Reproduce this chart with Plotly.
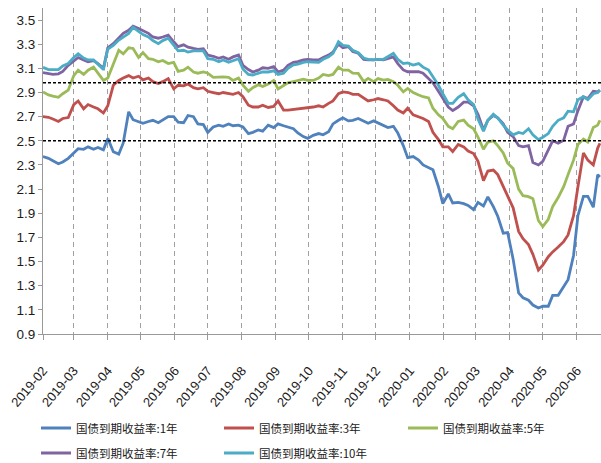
import plotly.graph_objects as go

# Observation dates (2019-02 .. 2020-06)
dates = [
    "2019-02-01", "2019-02-06", "2019-02-10", "2019-02-15", "2019-02-19", "2019-02-24",
    "2019-03-01", "2019-03-05", "2019-03-10", "2019-03-14", "2019-03-19", "2019-03-23",
    "2019-03-28", "2019-04-01", "2019-04-06", "2019-04-11", "2019-04-15", "2019-04-20",
    "2019-04-24", "2019-04-29", "2019-05-03", "2019-05-08", "2019-05-12", "2019-05-17",
    "2019-05-21", "2019-05-26", "2019-05-31", "2019-06-04", "2019-06-09", "2019-06-13",
    "2019-06-18", "2019-06-22", "2019-06-27", "2019-07-01", "2019-07-06", "2019-07-11",
    "2019-07-15", "2019-07-20", "2019-07-24", "2019-07-29", "2019-08-02", "2019-08-07",
    "2019-08-11", "2019-08-16", "2019-08-20", "2019-08-25", "2019-08-30", "2019-09-03",
    "2019-09-08", "2019-09-12", "2019-09-17", "2019-09-21", "2019-09-26", "2019-09-30",
    "2019-10-05", "2019-10-10", "2019-10-14", "2019-10-19", "2019-10-23",
    "2019-10-28", "2019-11-01", "2019-11-06", "2019-11-10", "2019-11-15", "2019-11-20",
    "2019-11-24", "2019-11-29", "2019-12-03", "2019-12-08", "2019-12-12", "2019-12-17",
    "2019-12-21", "2019-12-26", "2019-12-30", "2020-01-04", "2020-01-09", "2020-01-13",
    "2020-01-18", "2020-01-22", "2020-01-27", "2020-01-31", "2020-02-05", "2020-02-09",
    "2020-02-14", "2020-02-19", "2020-02-23", "2020-02-28",
    "2020-03-03", "2020-03-08", "2020-03-12", "2020-03-17", "2020-03-21", "2020-03-26",
    "2020-03-30", "2020-04-04", "2020-04-09", "2020-04-13", "2020-04-18", "2020-04-22",
    "2020-04-27", "2020-05-01", "2020-05-06", "2020-05-10", "2020-05-15", "2020-05-20",
    "2020-05-24", "2020-05-29", "2020-06-02", "2020-06-07", "2020-06-11", "2020-06-16",
    "2020-06-20", "2020-06-22",
]

# 国债到期收益率 (%)
yield_1y = [
    2.37, 2.355, 2.335, 2.31, 2.325, 2.355, 2.40, 2.435, 2.43, 2.45, 2.43, 2.445, 2.425, 2.52, 2.41,
    2.39, 2.48, 2.74, 2.675, 2.66, 2.645, 2.66, 2.67, 2.65, 2.675, 2.70, 2.70, 2.655, 2.65, 2.71,
    2.70, 2.64, 2.635, 2.57, 2.615, 2.63, 2.62, 2.64, 2.625, 2.63, 2.615, 2.56, 2.57, 2.59, 2.58,
    2.63, 2.61, 2.64, 2.625, 2.615, 2.60, 2.565, 2.535, 2.52, 2.545, 2.56, 2.55, 2.575, 2.64,
    2.67, 2.69, 2.665, 2.67, 2.685, 2.66, 2.645, 2.665, 2.65, 2.63, 2.61, 2.62, 2.565, 2.46,
    2.36, 2.37, 2.34, 2.30, 2.275, 2.26, 2.12, 1.98, 2.06, 1.985, 1.99, 1.98, 1.965, 1.93,
    1.99, 1.96, 2.035, 1.955, 1.875, 1.735, 1.74, 1.52, 1.24, 1.20, 1.18, 1.14, 1.115, 1.13,
    1.13, 1.22, 1.22, 1.29, 1.35, 1.55, 1.88, 2.04, 2.04, 1.95, 2.22, 2.20,
]
yield_3y = [
    2.70, 2.695, 2.68, 2.66, 2.685, 2.693, 2.80, 2.83, 2.765, 2.80, 2.78, 2.765, 2.73, 2.79, 2.96,
    3.00, 3.02, 3.04, 3.02, 3.035, 3.005, 3.02, 2.99, 2.975, 2.99, 3.015, 2.93, 2.96, 2.955, 2.97,
    2.94, 2.93, 2.94, 2.91, 2.90, 2.89, 2.90, 2.89, 2.885, 2.90, 2.865, 2.795, 2.78, 2.78, 2.795,
    2.776, 2.785, 2.83, 2.755, 2.755, 2.76, 2.77, 2.775, 2.777, 2.78, 2.79, 2.78, 2.81, 2.83,
    2.89, 2.905, 2.90, 2.885, 2.885, 2.855, 2.83, 2.84, 2.85, 2.84, 2.83, 2.79, 2.755, 2.73,
    2.77, 2.715, 2.70, 2.685, 2.66, 2.57, 2.51, 2.45, 2.45, 2.41, 2.47, 2.45, 2.415, 2.395,
    2.33, 2.17, 2.25, 2.258, 2.22, 2.12, 2.04, 1.945, 1.75, 1.69, 1.64, 1.56, 1.43, 1.47,
    1.54, 1.58, 1.62, 1.665, 1.72, 1.88, 2.12, 2.40, 2.34, 2.30, 2.44, 2.48,
]
yield_5y = [
    2.905, 2.88, 2.87, 2.86, 2.89, 2.92, 3.04, 3.085, 3.05, 3.085, 3.11, 3.06, 3.00, 3.02, 3.13,
    3.25, 3.22, 3.27, 3.265, 3.19, 3.23, 3.18, 3.175, 3.155, 3.165, 3.14, 3.15, 3.075, 3.085, 3.11,
    3.07, 3.06, 3.07, 3.06, 3.025, 3.03, 3.03, 3.025, 3.00, 3.02, 2.96, 2.91, 2.94, 2.965, 2.95,
    2.97, 3.00, 2.93, 2.96, 2.98, 2.99, 3.00, 3.01, 3.00, 3.00, 3.02, 3.05, 3.04, 3.05,
    3.11, 3.085, 3.085, 3.06, 3.058, 2.99, 3.017, 2.99, 3.015, 3.003, 3.009, 2.99, 2.96, 2.906,
    2.934, 2.90, 2.88, 2.865, 2.855, 2.77, 2.715, 2.685, 2.62, 2.60, 2.66, 2.672, 2.63, 2.60,
    2.53, 2.43, 2.49, 2.50, 2.46, 2.40, 2.315, 2.27, 2.10, 2.045, 2.037, 2.02, 1.84, 1.79,
    1.85, 1.955, 2.03, 2.12, 2.22, 2.34, 2.47, 2.515, 2.49, 2.61, 2.63, 2.67,
]
yield_7y = [
    3.065, 3.055, 3.05, 3.055, 3.075, 3.125, 3.165, 3.19, 3.17, 3.155, 3.165, 3.14, 3.10, 3.27, 3.305,
    3.35, 3.39, 3.415, 3.45, 3.43, 3.41, 3.39, 3.36, 3.35, 3.36, 3.375, 3.32, 3.28, 3.295, 3.275,
    3.265, 3.258, 3.263, 3.21, 3.20, 3.183, 3.195, 3.175, 3.195, 3.21, 3.125, 3.09, 3.07, 3.085,
    3.105, 3.10, 3.115, 3.07, 3.085, 3.125, 3.15, 3.156, 3.17, 3.175, 3.17, 3.17, 3.19, 3.21, 3.235,
    3.30, 3.27, 3.28, 3.24, 3.225, 3.175, 3.17, 3.17, 3.175, 3.17, 3.18, 3.195, 3.14, 3.087,
    3.072, 3.072, 3.072, 3.06, 3.017, 2.98, 2.91, 2.85, 2.78, 2.75, 2.78, 2.82, 2.82, 2.79,
    2.72, 2.59, 2.67, 2.71, 2.69, 2.64, 2.57, 2.535, 2.46, 2.45, 2.46, 2.32, 2.30, 2.33,
    2.42, 2.50, 2.48, 2.505, 2.62, 2.64, 2.75, 2.865, 2.85, 2.91, 2.905, 2.92,
]
yield_10y = [
    3.108, 3.09, 3.09, 3.09, 3.12, 3.14, 3.19, 3.22, 3.185, 3.17, 3.17, 3.135, 3.09, 3.26, 3.29,
    3.335, 3.36, 3.39, 3.44, 3.41, 3.38, 3.36, 3.33, 3.305, 3.33, 3.35, 3.29, 3.245, 3.25, 3.235,
    3.245, 3.245, 3.245, 3.18, 3.175, 3.155, 3.17, 3.15, 3.165, 3.18, 3.095, 3.05, 3.045, 3.06,
    3.07, 3.07, 3.08, 3.05, 3.06, 3.10, 3.13, 3.135, 3.15, 3.155, 3.155, 3.15, 3.175, 3.195, 3.225,
    3.32, 3.29, 3.285, 3.25, 3.23, 3.185, 3.175, 3.17, 3.175, 3.175, 3.195, 3.225, 3.175, 3.14,
    3.145, 3.128, 3.14, 3.11, 3.086, 3.03, 2.96, 2.89, 2.81, 2.81, 2.86, 2.89, 2.84, 2.80,
    2.68, 2.58, 2.67, 2.72, 2.69, 2.63, 2.59, 2.55, 2.57, 2.56, 2.60, 2.55, 2.51, 2.53,
    2.56, 2.62, 2.67, 2.69, 2.745, 2.74, 2.84, 2.865, 2.84, 2.89, 2.90, 2.92,
]

series_names = ["国债到期收益率:1年", "国债到期收益率:3年", "国债到期收益率:5年",
                "国债到期收益率:7年", "国债到期收益率:10年"]
series_values = [yield_1y, yield_3y, yield_5y, yield_7y, yield_10y]
series_colors = ["#4F81BD", "#C0504D", "#9BBB59", "#8064A2", "#4BACC6"]

# Reference levels drawn as dashed horizontal lines
ref_levels = [2.98, 2.5]

y_ticks = [0.9, 1.1, 1.3, 1.5, 1.7, 1.9, 2.1, 2.3, 2.5, 2.7, 2.9, 3.1, 3.3, 3.5]

# One legend box per entry, laid out as a 3-column grid below the chart
legend_ids = ["legend", "legend2", "legend3", "legend4", "legend5"]
legend_cols_px = [36, 219, 403, 36, 219]
legend_rows_px = [428, 428, 428, 453, 453]

fig = go.Figure()
for name, vals, color, lg in zip(series_names, series_values, series_colors, legend_ids):
    fig.add_trace(go.Scatter(
        x=dates, y=vals, name=name, mode="lines",
        line=dict(color=color, width=2.8),
        legend=lg,
    ))

for lvl in ref_levels:
    fig.add_shape(type="line", xref="paper", x0=0, x1=1, yref="y", y0=lvl, y1=lvl,
                  line=dict(color="black", width=1.5, dash="3px,2px"))

W, H = 601, 463
legend_font = dict(family="Noto Sans CJK SC", size=11.5, color="#1a1a1a")
legend_layout = {}
for lg, cx, cy in zip(legend_ids, legend_cols_px, legend_rows_px):
    legend_layout[lg] = dict(
        orientation="h", xref="container", yref="container",
        x=cx / W, y=1 - cy / H, xanchor="left", yanchor="middle",
        font=legend_font, bgcolor="rgba(0,0,0,0)",
    )

x_tick_font = dict(family="Liberation Sans, Arial, sans-serif", size=13, color="#1a1a1a")
y_tick_font = dict(family="Liberation Sans, Arial, sans-serif", size=13.5, color="#1a1a1a")

fig.update_layout(
    width=W, height=H, autosize=False,
    margin=dict(l=43, r=0, t=8, b=129),
    paper_bgcolor="white", plot_bgcolor="white",
    showlegend=True,
    **legend_layout,
    xaxis=dict(
        type="date", range=["2019-02-01", "2020-06-23"],
        tick0="2019-02-01", dtick="M1", tickformat="%Y-%m",
        tickangle=-50, tickfont=x_tick_font,
        ticks="outside", ticklen=5, tickcolor="#999999",
        showline=True, linecolor="#999999", linewidth=1,
        showgrid=True, gridcolor="#A0A0A0", gridwidth=1, griddash="5px,4px",
        zeroline=False, ticklabelstandoff=18,
    ),
    yaxis=dict(
        range=[0.9, 3.6], tickmode="array", tickvals=y_ticks,
        ticktext=[f"{v:.1f}" for v in y_ticks], tickfont=y_tick_font,
        ticks="outside", ticklen=4, tickcolor="#999999",
        showline=True, linecolor="#999999", linewidth=1,
        showgrid=False, zeroline=False,
    ),
)

fig.write_html("out.html")
